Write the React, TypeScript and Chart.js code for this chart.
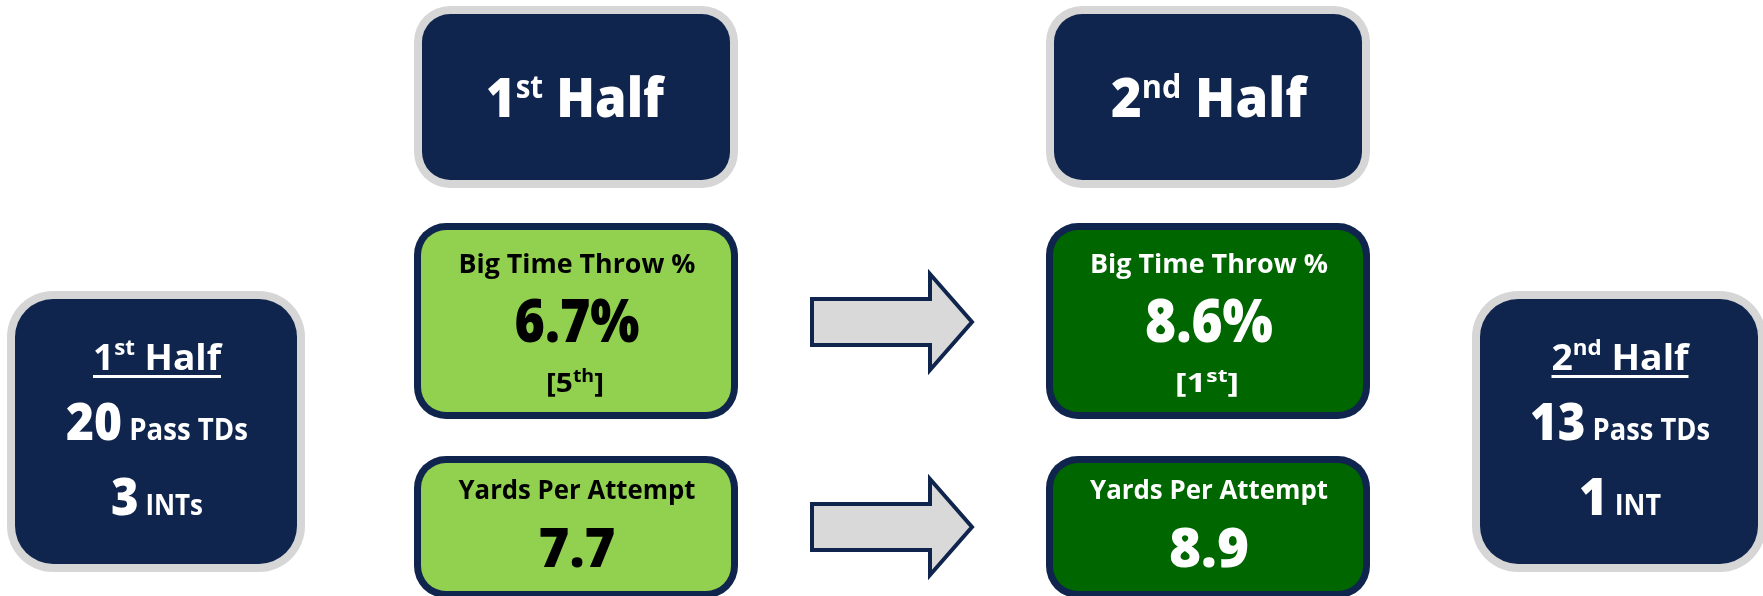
import { useEffect, useRef } from 'react';
import { Chart, registerables } from 'chart.js';

Chart.register(...registerables);

// ---------- data ----------
const periodOrdinals = ['1', '2'];
const periodSuffixes = ['st', 'nd'];
const passTDs = [20, 13];
const interceptions = [3, 1];
const interceptionLabels = ['INTs', 'INT'];
const metricTitles = ['Big Time Throw %', 'Yards Per Attempt'];
const bigTimeThrowPct = [6.7, 8.6];
const bigTimeThrowRank = [5, 1];
const rankSuffixes = ['th', 'st'];
const yardsPerAttempt = [7.7, 8.9];

// ---------- layout & style (units of the 1763 x 596 value space) ----------
const W = 1763;
const H = 596;
const NAVY = '#10254E';
const GRAY = '#D6D6D6';
const ARROW_FILL = '#D9D9D9';
const GREENS = ['#92D050', '#006600'];
const METRIC_TEXT = ['#000000', '#FFFFFF'];
const FONT = '"Open Sans", "Liberation Sans", sans-serif';

const HEADER_Y = [6, 188];
const COLS = [
  [414, 738],
  [1046, 1370],
];
const METRIC_ROWS = [
  [223, 419],
  [456, 598],
];
const SUMMARY_COLS = [
  [7, 305],
  [1472, 1766],
];
const SUMMARY_Y = [291, 572];
const ARROW_X = [812, 930, 972];
const ARROW_MID = [322, 527];
const ARROW_BODY_HALF = 23;
const ARROW_HEAD_HALF = 48;

const HEADER_W = [178, 196];
const SUM_TITLE_W = [128, 137];
const SUM_TD_W = [182, 180];
const SUM_INT_W = [92, 82];
const METRIC_TITLE_W = [237, 238];
const BTT_VALUE_W = [125, 128];
const RANK_W = [58, 64];
const YPA_VALUE_W = [77, 80];

type Seg = { t: string; size: number; rise?: number };

function font(size: number) {
  return `${size >= 40 ? 800 : 700} ${size}px ${FONT}`;
}

function roundRectPath(ctx: CanvasRenderingContext2D, x0: number, y0: number, x1: number, y1: number, r: number) {
  const rr = Math.max(0, Math.min(r, (x1 - x0) / 2, (y1 - y0) / 2));
  ctx.beginPath();
  ctx.moveTo(x0 + rr, y0);
  ctx.lineTo(x1 - rr, y0);
  ctx.arcTo(x1, y0, x1, y0 + rr, rr);
  ctx.lineTo(x1, y1 - rr);
  ctx.arcTo(x1, y1, x1 - rr, y1, rr);
  ctx.lineTo(x0 + rr, y1);
  ctx.arcTo(x0, y1, x0, y1 - rr, rr);
  ctx.lineTo(x0, y0 + rr);
  ctx.arcTo(x0, y0, x0 + rr, y0, rr);
  ctx.closePath();
}

function panel(
  ctx: CanvasRenderingContext2D,
  x0: number, y0: number, x1: number, y1: number,
  r: number, bw: number, border: string, fill: string,
) {
  ctx.save();
  roundRectPath(ctx, x0, y0, x1, y1, r);
  ctx.fillStyle = border;
  ctx.fill();
  roundRectPath(ctx, x0 + bw, y0 + bw, x1 - bw, y1 - bw, r - bw);
  ctx.fillStyle = fill;
  ctx.fill();
  ctx.restore();
}

function drawRich(
  ctx: CanvasRenderingContext2D,
  segs: Seg[], cx: number, baseline: number, targetW: number, color: string,
  underline = false,
) {
  ctx.save();
  ctx.textAlign = 'left';
  ctx.textBaseline = 'alphabetic';
  let natural = 0;
  const widths = segs.map((s) => {
    ctx.font = font(s.size);
    const w = ctx.measureText(s.t).width;
    natural += w;
    return w;
  });
  const k = targetW / natural;
  ctx.translate(cx, baseline);
  ctx.scale(k, 1);
  ctx.fillStyle = color;
  let x = -natural / 2;
  segs.forEach((s, i) => {
    ctx.font = font(s.size);
    ctx.fillText(s.t, x, -(s.rise || 0));
    x += widths[i];
  });
  if (underline) ctx.fillRect(-natural / 2, 5, natural, 3);
  ctx.restore();
}

const infographic = {
  id: 'infographic',
  afterDraw(chart: any) {
    const ctx: CanvasRenderingContext2D = chart.ctx;
    const xs = chart.scales.x;
    const ys = chart.scales.y;
    const px = (v: number) => xs.getPixelForValue(v);
    const py = (v: number) => ys.getPixelForValue(v);

    ctx.save();
    ctx.fillStyle = '#FFFFFF';
    ctx.fillRect(0, 0, chart.width, chart.height);

    // Header boxes
    periodOrdinals.forEach((ord, i) => {
      const [a, b] = COLS[i];
      panel(ctx, px(a), py(HEADER_Y[0]), px(b), py(HEADER_Y[1]), 36, 8, GRAY, NAVY);
      drawRich(
        ctx,
        [
          { t: ord, size: 55 },
          { t: periodSuffixes[i], size: 32, rise: 19 },
          { t: ' Half', size: 55 },
        ],
        px((a + b) / 2) + (i === 0 ? -1 : 1), py(117), HEADER_W[i], '#FFFFFF',
      );
    });

    // Metric boxes
    [bigTimeThrowPct, yardsPerAttempt].forEach((_, row) => {
      const [t0, t1] = METRIC_ROWS[row];
      COLS.forEach(([a, b], i) => {
        panel(ctx, px(a), py(t0), px(b), py(t1), 32, 7, NAVY, GREENS[i]);
        const cx = px((a + b) / 2) + 1;
        const col = METRIC_TEXT[i];
        if (row === 0) {
          drawRich(ctx, [{ t: metricTitles[0], size: 27 }], cx, py(273), METRIC_TITLE_W[i], col);
          drawRich(ctx, [{ t: `${bigTimeThrowPct[i].toFixed(1)}%`, size: 60 }], cx, py(342), BTT_VALUE_W[i], col);
          drawRich(
            ctx,
            [
              { t: '[', size: 26 },
              { t: String(bigTimeThrowRank[i]), size: 26 },
              { t: rankSuffixes[i], size: 17, rise: 10 },
              { t: ']', size: 26 },
            ],
            cx - 2, py(392), RANK_W[i], col,
          );
        } else {
          drawRich(ctx, [{ t: metricTitles[1], size: 27 }], cx, py(499), METRIC_TITLE_W[i], col);
          drawRich(ctx, [{ t: yardsPerAttempt[i].toFixed(1), size: 55 }], cx, py(567), YPA_VALUE_W[i], col);
        }
      });
    });

    // Arrows
    ARROW_MID.forEach((m) => {
      const [x0, xh, x1] = ARROW_X;
      ctx.beginPath();
      ctx.moveTo(px(x0), py(m - ARROW_BODY_HALF));
      ctx.lineTo(px(xh), py(m - ARROW_BODY_HALF));
      ctx.lineTo(px(xh), py(m - ARROW_HEAD_HALF));
      ctx.lineTo(px(x1), py(m));
      ctx.lineTo(px(xh), py(m + ARROW_HEAD_HALF));
      ctx.lineTo(px(xh), py(m + ARROW_BODY_HALF));
      ctx.lineTo(px(x0), py(m + ARROW_BODY_HALF));
      ctx.closePath();
      ctx.fillStyle = ARROW_FILL;
      ctx.fill();
      ctx.lineWidth = 4;
      ctx.strokeStyle = NAVY;
      ctx.lineJoin = 'miter';
      ctx.stroke();
    });

    // Summary boxes
    SUMMARY_COLS.forEach(([a, b], i) => {
      panel(ctx, px(a), py(SUMMARY_Y[0]), px(b), py(SUMMARY_Y[1]), 46, 8, GRAY, NAVY);
      const cx = px((a + b) / 2) + 1;
      drawRich(
        ctx,
        [
          { t: periodOrdinals[i], size: 35 },
          { t: periodSuffixes[i], size: 21, rise: 15 },
          { t: ' Half', size: 35 },
        ],
        cx, py(370), SUM_TITLE_W[i], '#FFFFFF', true,
      );
      drawRich(
        ctx,
        [
          { t: String(passTDs[i]), size: 52 },
          { t: ' Pass TDs', size: 30 },
        ],
        cx, py(440), SUM_TD_W[i], '#FFFFFF',
      );
      drawRich(
        ctx,
        [
          { t: String(interceptions[i]), size: 51 },
          { t: ' ' + interceptionLabels[i], size: 28 },
        ],
        cx, py(515), SUM_INT_W[i], '#FFFFFF',
      );
    });
    ctx.restore();
  },
};

export default function App() {
  const ref = useRef<HTMLCanvasElement>(null);
  useEffect(() => {
    document.body.style.margin = '0';
    const canvas = ref.current!;
    const chart = new Chart(canvas, {
      type: 'scatter',
      data: { datasets: [] },
      options: {
        animation: false,
        responsive: false,
        events: [],
        layout: { padding: 0 },
        plugins: {
          legend: { display: false },
          tooltip: { enabled: false },
          title: { display: false },
        },
        scales: {
          x: { type: 'linear', min: 0, max: W, display: false },
          y: { type: 'linear', min: 0, max: H, reverse: true, display: false },
        },
      },
      plugins: [infographic],
    });
    return () => chart.destroy();
  }, []);
  return <canvas ref={ref} width={W} height={H} style={{ display: 'block' }} />;
}
